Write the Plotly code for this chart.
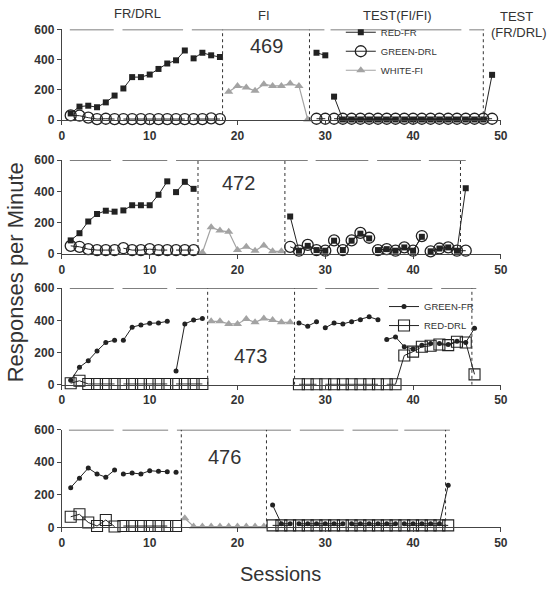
import plotly.graph_objects as go

N = None
FONT = "Liberation Sans, Arial, sans-serif"
INK = "#222222"
GRAY = "#a3a3a3"
PHASE = "#555555"

# ---------------- data (None = break in the line) ----------------
# Subject 469
s469_red_x = [1,2,3,4,5,6,N,7,8,9,10,11,12,13,14,N,15,16,17,18,N,29,30,N,31,32,33,34,35,36,37,38,N,39,40,41,42,43,44,45,N,46,47,48,49]
s469_red_y = [45,90,96,86,118,163,N,210,285,285,302,339,375,396,461,N,409,446,429,418,N,446,429,N,156,5,5,5,5,5,5,5,N,5,5,5,5,5,5,5,N,5,5,5,300]
s469_grn_x = [1,2,3,4,5,6,N,7,8,9,10,11,12,13,14,N,15,16,17,18,N,29,30,N,31,32,33,34,35,36,37,38,N,39,40,41,42,43,44,45,N,46,47,48,49]
s469_grn_y = [32,30,17,8,10,8,N,8,8,8,8,8,8,8,8,N,8,8,12,8,N,10,10,N,10,10,10,10,10,10,10,10,N,10,10,10,10,10,10,10,N,10,10,10,10]
s469_fi_x = [19,20,21,22,23,24,25,26,27,28]
s469_fi_y = [189,227,216,195,238,227,227,242,227,5]

# Subject 472
s472_red_x = [1,2,3,4,5,6,N,7,8,9,10,11,12,N,13,14,15,N,26,27,28,29,30,31,32,33,34,35,N,36,37,38,39,40,41,N,42,43,44,45,46]
s472_red_y = [87,133,208,256,277,271,N,279,312,312,312,379,465,N,396,462,417,N,240,21,52,25,21,85,25,85,130,100,N,25,31,21,42,21,110,N,17,35,42,21,421]
s472_grn_x = [1,2,3,4,5,6,N,7,8,9,10,11,12,N,13,14,15,N,26,27,28,29,30,31,32,33,34,35,N,36,37,38,39,40,41,N,42,43,44,45,46]
s472_grn_y = [52,46,31,25,25,25,N,37,25,25,31,25,25,N,25,25,25,N,46,21,58,25,21,87,25,87,135,104,N,25,31,21,42,21,115,N,17,35,42,21,21]
s472_fi_x = [16,17,18,19,20,21,22,23,24,25]
s472_fi_y = [10,171,150,142,25,46,21,55,17,17]

# Subject 473
s473_gfr_x = [1,2,3,4,5,6,N,7,8,9,10,11,12,N,13,14,15,16,N,27,28,29,N,30,31,32,33,34,35,36,N,37,38,39,40,41,42,N,43,44,45,46,47]
s473_gfr_y = [28,109,150,210,263,277,N,277,358,372,382,384,394,N,85,378,402,412,N,384,364,392,N,354,384,378,392,404,422,404,N,281,297,236,222,246,257,N,257,250,271,263,351]
s473_rdrl_x = [1,2,3,4,5,6,N,7,8,9,10,11,12,N,13,14,15,16,N,27,28,29,N,30,31,32,33,34,35,36,N,37,38,39,40,41,42,N,43,44,45,46,47]
s473_rdrl_y = [10,25,5,5,5,5,N,5,5,5,5,5,5,N,5,5,5,5,N,3,3,3,N,3,3,3,3,3,3,3,N,3,3,182,206,236,242,N,250,246,267,263,65]
s473_fi_x = [17,18,19,20,21,22,23,24,25,26]
s473_fi_y = [394,394,378,378,408,388,412,402,388,388]

# Subject 476
s476_gfr_x = [1,2,3,4,5,6,N,7,8,9,10,11,12,N,13,N,24,25,26,N,27,28,29,30,31,32,N,33,34,35,36,37,38,N,39,40,41,42,43,44]
s476_gfr_y = [244,302,364,328,308,352,N,328,334,328,348,344,342,N,338,N,137,22,22,N,22,22,22,22,22,22,N,22,22,22,22,22,22,N,22,22,22,22,22,258]
s476_rdrl_x = [1,2,3,4,5,6,N,7,8,9,10,11,12,N,13,N,24,25,26,N,27,28,29,30,31,32,N,33,34,35,36,37,38,N,39,40,41,42,43,44]
s476_rdrl_y = [65,80,30,8,45,5,N,8,8,8,8,8,8,N,8,N,12,12,12,N,12,12,12,12,12,12,N,12,12,12,12,12,12,N,12,12,12,12,12,12]
s476_fi_x = [14,15,16,17,18,19,20,21,22,23]
s476_fi_y = [56,5,5,5,5,5,5,5,5,5]

# phase bars drawn at the 600 level (start, end sessions)
bars469 = [(0.9,5.9),(6.9,13.8),(14.8,29.9),(30.6,38.0),(38.6,45.5),(46.4,48.1)]
bars472 = [(0.9,5.6),(6.9,12.0),(13.0,28.0),(28.9,34.9),(35.9,40.9),(41.8,46.0)]
bars473 = [(0.9,5.9),(6.9,12.0),(13.0,29.1),(30.0,36.1),(37.1,42.2),(43.2,47.2)]
bars476 = [(0.8,5.9),(6.9,12.1),(13.1,26.1),(27.1,32.1),(33.1,38.3),(39.0,44.2)]
# phase-change dotted lines
chg469 = [18.3, 28.2, 48.0]
chg472 = [15.5, 25.4, 45.4]
chg473 = [16.6, 26.5, 46.7]
chg476 = [13.6, 23.3, 43.7]

subjects = ["469", "472", "473", "476"]
x_ticks = [0, 10, 20, 30, 40, 50]
y_ticks = [0, 200, 400, 600]
phase_labels = ["FR/DRL", "FI", "TEST(FI/FI)", "TEST", "(FR/DRL)"]

# ---------------- geometry ----------------
W, H = 555, 589
def px(x): return x / W
def py(y): return 1 - y / H

xdom = [px(60), px(507)]
ydoms = [(116, 23), (253, 157), (387, 288), (533, 433)]

fig = go.Figure()

def red_fr(x, y, ax, show):
    return go.Scatter(x=x, y=y, xaxis="x"+ax, yaxis="y"+ax, name="RED-FR", mode="lines+markers",
                      line=dict(color=INK, width=1), marker=dict(symbol="square", size=6, color=INK),
                      showlegend=show, legend="legend", cliponaxis=False, connectgaps=False)
def green_drl(x, y, ax, show):
    return go.Scatter(x=x, y=y, xaxis="x"+ax, yaxis="y"+ax, name="GREEN-DRL", mode="lines+markers",
                      line=dict(color=INK, width=1),
                      marker=dict(symbol="circle-open", size=11, color=INK, line=dict(width=1.3)),
                      showlegend=show, legend="legend", cliponaxis=False, connectgaps=False)
def white_fi(x, y, ax, show):
    return go.Scatter(x=x, y=y, xaxis="x"+ax, yaxis="y"+ax, name="WHITE-FI", mode="lines+markers",
                      line=dict(color=GRAY, width=1.2), marker=dict(symbol="triangle-up", size=8, color=GRAY),
                      showlegend=show, legend="legend", cliponaxis=False, connectgaps=False)
def green_fr(x, y, ax, show):
    return go.Scatter(x=x, y=y, xaxis="x"+ax, yaxis="y"+ax, name="GREEN-FR", mode="lines+markers",
                      line=dict(color=INK, width=1), marker=dict(symbol="circle", size=5, color=INK),
                      showlegend=show, legend="legend2", cliponaxis=False, connectgaps=False)
def red_drl(x, y, ax, show):
    return go.Scatter(x=x, y=y, xaxis="x"+ax, yaxis="y"+ax, name="RED-DRL", mode="lines+markers",
                      line=dict(color=INK, width=1),
                      marker=dict(symbol="square-open", size=11, color=INK, line=dict(width=1.1)),
                      showlegend=show, legend="legend2", cliponaxis=False, connectgaps=False)

# panel 1
fig.add_trace(red_fr(s469_red_x, s469_red_y, "", True))
fig.add_trace(green_drl(s469_grn_x, s469_grn_y, "", True))
fig.add_trace(white_fi(s469_fi_x, s469_fi_y, "", True))
# panel 2
fig.add_trace(white_fi(s472_fi_x, s472_fi_y, "2", False))
fig.add_trace(green_drl(s472_grn_x, s472_grn_y, "2", False))
fig.add_trace(red_fr(s472_red_x, s472_red_y, "2", False))
# panel 3
fig.add_trace(white_fi(s473_fi_x, s473_fi_y, "3", False))
fig.add_trace(green_fr(s473_gfr_x, s473_gfr_y, "3", True))
fig.add_trace(red_drl(s473_rdrl_x, s473_rdrl_y, "3", True))
# panel 4
fig.add_trace(white_fi(s476_fi_x, s476_fi_y, "4", False))
fig.add_trace(red_drl(s476_rdrl_x, s476_rdrl_y, "4", False))
fig.add_trace(green_fr(s476_gfr_x, s476_gfr_y, "4", False))

tickfont = dict(family=FONT, size=12, color="#333333", weight="bold")
layout = dict(
    width=W, height=H, margin=dict(l=0, r=0, t=0, b=0),
    paper_bgcolor="white", plot_bgcolor="white",
    font=dict(family=FONT, color="#333333"),
    legend=dict(x=px(344), y=py(11), xanchor="left", yanchor="top", bgcolor="rgba(0,0,0,0)",
                font=dict(family=FONT, size=9.5, color="#333333"), tracegroupgap=0),
    legend2=dict(x=px(388), y=py(292), xanchor="left", yanchor="top", bgcolor="rgba(0,0,0,0)",
                 font=dict(family=FONT, size=9.5, color="#333333"), tracegroupgap=0),
)
for i, (y0, y1) in enumerate(ydoms):
    sfx = "" if i == 0 else str(i + 1)
    layout["xaxis" + sfx] = dict(domain=xdom, range=[0, 50], anchor="y" + sfx, tickvals=x_ticks,
                                 showgrid=False, zeroline=False, showline=True, linecolor="#444444",
                                 linewidth=1.3, ticks="outside", ticklen=4, tickcolor="#444444",
                                 tickfont=tickfont, fixedrange=True)
    layout["yaxis" + sfx] = dict(domain=[py(y0), py(y1)], range=[0, 600], anchor="x" + sfx,
                                 tickvals=y_ticks, showgrid=False, zeroline=False, showline=True,
                                 linecolor="#444444", linewidth=1.3, ticks="outside", ticklen=4,
                                 tickcolor="#444444", tickfont=tickfont, fixedrange=True)
fig.update_layout(**layout)

shapes = []
for i, (bars, chg) in enumerate([(bars469, chg469), (bars472, chg472), (bars473, chg473), (bars476, chg476)]):
    sfx = "" if i == 0 else str(i + 1)
    for a, b in bars:
        shapes.append(dict(type="line", xref="x" + sfx, yref="y" + sfx, x0=a, x1=b, y0=600, y1=600,
                           line=dict(color=PHASE, width=1.6)))
    for c in chg:
        shapes.append(dict(type="line", xref="x" + sfx, yref="y" + sfx, x0=c, x1=c, y0=0, y1=600,
                           line=dict(color="#333333", width=1, dash="dot")))
fig.update_layout(shapes=shapes)

def label(text, x, y, size, angle=0):
    return dict(text=text, x=px(x), y=py(y), xref="paper", yref="paper", showarrow=False,
                xanchor="center", yanchor="middle", textangle=angle,
                font=dict(family=FONT, size=size, color="#333333"))

ann = []
for text, (x, y) in zip(phase_labels, [(137, 7), (266, 9), (402, 9), (523, 10), (525, 26)]):
    ann.append(label(text, x, y, 13))
for text, (x, y) in zip(subjects, [(268, 40), (240, 180), (252, 358), (226, 461)]):
    ann.append(label(text, x, y, 20))
ann.append(label("Responses per Minute", 13, 272, 22, -90))
ann.append(label("Sessions", 283, 581, 20))
fig.update_layout(annotations=ann)

fig.write_html("out.html", config={"displayModeBar": False},
               post_script="document.body.style.margin='0px';document.body.style.overflow='hidden';")
